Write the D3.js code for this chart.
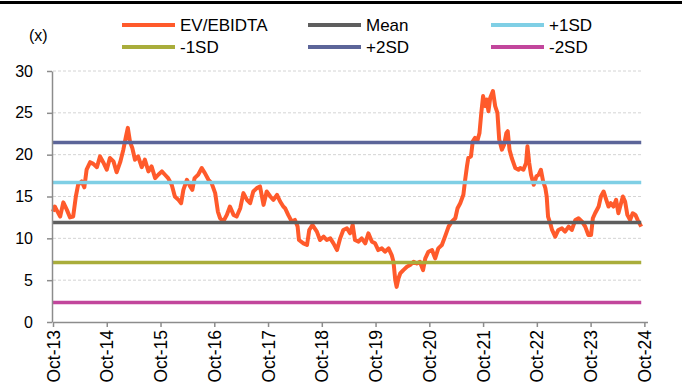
<!DOCTYPE html>
<html>
<head>
<meta charset="utf-8">
<script src="https://cdn.jsdelivr.net/npm/d3@7"></script>
<style>
    body { margin: 0; background: #fff; }
    svg { display: block; font-family: "Liberation Sans", Arial, sans-serif; }
</style>
</head>
<body>
<svg width="682" height="392"></svg>
<script>

// months since Oct-13
var months = [
    0.0, 0.4, 0.8, 1.6, 2.3, 3.1, 3.8, 4.5, 5.1, 5.6, 6.4, 7.0, 7.5, 8.3, 9.0, 9.8,
    10.5, 11.2, 12.0, 12.7, 13.5, 14.2, 15.0, 15.7, 16.3, 16.7, 17.2, 17.7, 18.3, 19.0, 19.8,
    20.5, 21.3, 22.0, 22.8, 23.5, 24.3, 25.0, 25.7, 26.5, 27.2, 28.0, 28.6, 29.1, 29.9,
    30.6, 31.1, 31.6, 32.4, 33.2, 33.9, 34.7, 35.4, 36.2, 36.8, 37.3, 38.0, 38.8, 39.5,
    40.3, 41.0, 41.8, 42.5, 43.3, 44.0, 44.7, 45.5, 46.2, 47.0, 47.7, 48.5, 49.2, 50.0,
    50.7, 51.4, 51.8, 52.5, 53.3, 54.0, 54.6, 54.9, 55.9, 56.7, 57.2, 57.9, 58.9, 59.6,
    60.4, 61.1, 61.9, 62.6, 63.4, 64.1, 64.8, 65.6, 66.3, 66.9, 67.4, 68.2, 68.9, 69.7,
    70.4, 71.2, 71.9, 72.6, 73.4, 74.1, 74.9, 75.6, 76.0, 76.4, 76.7, 77.1, 77.5, 78.2,
    79.0, 79.7, 80.5, 81.2, 81.9, 82.6, 83.1, 83.8, 84.6, 85.3, 86.0, 86.8, 87.5, 88.3,
    89.0, 89.8, 90.3, 90.9, 91.6, 92.0, 92.4, 92.7, 93.3, 93.7, 94.2, 94.7, 95.2, 95.6,
    96.0, 96.5, 96.8, 97.2, 97.6, 98.2, 98.7, 99.2, 99.6, 100.2, 100.7, 101.2, 101.5, 101.9,
    102.4, 103.2, 103.9, 104.3, 105.0, 105.6, 105.9, 106.3, 106.7, 107.3, 107.9, 108.4, 108.9,
    109.4, 109.9, 110.2, 110.5, 111.0, 111.4, 112.1, 112.8, 113.6, 114.3, 115.1, 115.8,
    116.6, 117.3, 118.1, 118.8, 119.5, 120.1, 120.5, 121.0, 121.8, 122.3, 122.9, 123.5,
    124.0, 124.5, 125.1, 125.7, 126.2, 126.6, 127.2, 127.7, 128.2, 128.8, 129.4, 130.0,
    130.5, 131.3
];

var evEbitda = [
    13.2, 13.8, 13.4, 12.6, 14.3, 13.4, 12.5, 12.6, 15.0, 16.4, 16.8, 16.1, 18.2, 19.1, 18.9, 18.5,
    19.8, 19.1, 18.2, 19.6, 19.2, 17.9, 19.1, 20.6, 22.2, 23.2, 21.5, 20.8, 19.4, 19.8, 18.5,
    19.4, 18.0, 18.6, 17.2, 17.6, 18.0, 17.6, 17.2, 16.4, 15.0, 14.6, 14.2, 15.8, 17.0,
    16.2, 15.8, 17.2, 17.6, 18.4, 17.8, 17.0, 16.6, 15.4, 13.2, 12.4, 12.0, 12.8, 13.8,
    12.8, 12.6, 13.6, 15.4, 14.6, 14.2, 15.6, 16.0, 16.2, 14.0, 15.6, 15.0, 14.6, 15.2,
    14.4, 13.8, 13.6, 12.8, 12.0, 12.2, 11.4, 9.8, 9.4, 9.2, 11.0, 11.6, 10.8, 9.8,
    10.2, 9.8, 10.0, 9.4, 8.6, 10.0, 11.0, 11.2, 10.6, 11.6, 9.8, 9.6, 10.0, 9.4,
    10.6, 9.6, 9.4, 8.6, 8.8, 8.4, 8.8, 8.0, 7.2, 5.0, 4.2, 5.2, 5.8, 6.2,
    6.6, 6.8, 7.2, 7.0, 7.2, 6.2, 7.6, 8.4, 8.6, 7.6, 8.8, 9.2, 10.2, 11.4,
    12.0, 12.4, 13.6, 14.2, 15.2, 17.0, 18.6, 19.6, 19.8, 21.6, 22.0, 21.6, 22.6, 25.0,
    27.0, 25.8, 26.6, 25.2, 26.8, 27.6, 25.8, 25.0, 21.8, 20.6, 21.2, 22.6, 22.8, 20.6,
    19.6, 18.4, 18.2, 18.4, 18.2, 19.0, 21.0, 19.0, 17.6, 16.4, 17.4, 17.6, 18.2,
    16.8, 16.0, 15.0, 12.6, 11.8, 11.0, 10.2, 11.0, 11.2, 10.8, 11.4, 11.0,
    12.2, 12.4, 12.0, 11.4, 10.4, 10.4, 12.4, 13.0, 13.8, 15.0, 15.6, 14.6,
    13.8, 14.2, 13.8, 14.6, 13.0, 13.8, 15.0, 14.4, 12.8, 12.2, 13.0, 12.8,
    12.2, 11.4
];

var bandNames = ["Mean", "+1SD", "-1SD", "+2SD", "-2SD"];
var bandValues = [11.9, 16.68, 7.12, 21.46, 2.34];

var legendNames = ["EV/EBIDTA", "Mean", "+1SD", "-1SD", "+2SD", "-2SD"];

var xTickMonths = [0, 12, 24, 36, 48, 60, 72, 84, 96, 108, 120, 132];
var xTickLabels = ["Oct-13", "Oct-14", "Oct-15", "Oct-16", "Oct-17", "Oct-18",
    "Oct-19", "Oct-20", "Oct-21", "Oct-22", "Oct-23", "Oct-24"];
var yTicks = [0, 5, 10, 15, 20, 25, 30];

// colours
var colors = {
    "EV/EBIDTA": "#ff5a2b",
    "Mean": "#5e5e5e",
    "+1SD": "#7fcfe5",
    "-1SD": "#a9ad3b",
    "+2SD": "#5c6599",
    "-2SD": "#c2469c"
};

var svg = d3.select("svg");

// top rule
svg.append("line")
    .attr("x1", 0).attr("x2", 682)
    .attr("y1", 2.5).attr("y2", 2.5)
    .attr("stroke", "#000")
    .attr("stroke-width", 3);

var x = d3.scaleLinear()
    .domain([0, 132.7])
    .range([53, 647.5]);

var y = d3.scaleLinear()
    .domain([0, 30])
    .range([322, 71]);

var xEnd = x(months[months.length - 1]);

// dashed grid
svg.append("g")
    .selectAll("line")
    .data(yTicks.slice(1))
    .enter().append("line")
    .attr("x1", x(0)).attr("x2", xEnd)
    .attr("y1", function (d) { return y(d); })
    .attr("y2", function (d) { return y(d); })
    .attr("stroke", "#d4d4d4")
    .attr("stroke-width", 1)
    .attr("stroke-dasharray", "3,2");

// main series
var line = d3.line()
    .x(function (d, i) { return x(months[i]); })
    .y(function (d) { return y(d); });

svg.append("path")
    .datum(evEbitda)
    .attr("d", line)
    .attr("fill", "none")
    .attr("stroke", colors["EV/EBIDTA"])
    .attr("stroke-width", 4)
    .attr("stroke-linejoin", "round");

// mean and sd bands
svg.append("g")
    .selectAll("line")
    .data(bandNames)
    .enter().append("line")
    .attr("x1", x(0)).attr("x2", xEnd)
    .attr("y1", function (d, i) { return y(bandValues[i]); })
    .attr("y2", function (d, i) { return y(bandValues[i]); })
    .attr("stroke", function (d) { return colors[d]; })
    .attr("stroke-width", 3.5);

// y axis
var yAxis = svg.append("g")
    .attr("transform", "translate(52,0)")
    .call(d3.axisLeft(y).tickValues(yTicks).tickSize(5).tickSizeOuter(0).tickPadding(14));

// x axis
var xAxis = svg.append("g")
    .attr("transform", "translate(0,322)")
    .call(d3.axisBottom(x)
        .tickValues(xTickMonths)
        .tickFormat(function (d, i) { return xTickLabels[i]; })
        .tickSize(5)
        .tickSizeOuter(0));

[yAxis, xAxis].forEach(function (a) {
    a.selectAll("path, line").attr("stroke", "#8c8c8c").attr("stroke-width", 1.5);
    a.selectAll("text").attr("fill", "#000").style("font-size", "16px")
        .style("font-family", "'Liberation Sans', Arial, sans-serif");
});

// rotate x axis text
xAxis.selectAll("text")
    .attr("transform", "rotate(-90)")
    .attr("x", -8)
    .attr("y", 0)
    .attr("dy", "0.35em")
    .style("text-anchor", "end")
    .style("font-size", "17.5px");

// unit label
svg.append("text")
    .attr("x", 29)
    .attr("y", 41)
    .style("font-size", "16px")
    .text("(x)");

// legend
var legendX = [122, 308, 491];
var legendY = [25, 47];

var leg = svg.append("g")
    .selectAll("g")
    .data(legendNames)
    .enter().append("g")
    .attr("transform", function (d, i) {
        return "translate(" + legendX[i % 3] + "," + legendY[Math.floor(i / 3)] + ")";
    });

leg.append("line")
    .attr("x1", 0).attr("x2", 53)
    .attr("stroke", function (d) { return colors[d]; })
    .attr("stroke-width", 4);

leg.append("text")
    .attr("x", 58)
    .attr("dy", "0.36em")
    .style("font-size", "17px")
    .text(function (d) { return d; });

</script>
</body>
</html>
